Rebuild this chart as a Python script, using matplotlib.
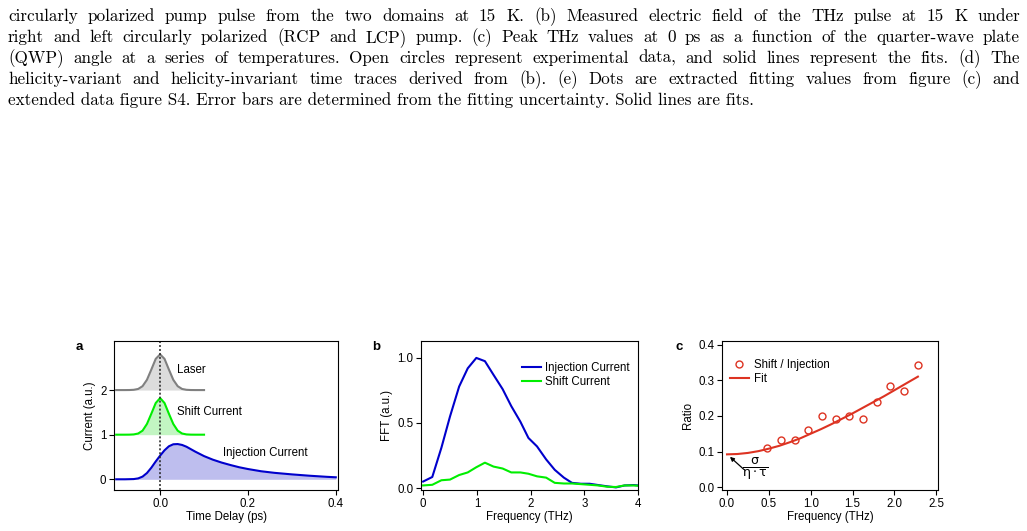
import matplotlib
matplotlib.use("Agg")
import matplotlib.pyplot as plt

plt.rcParams['font.family'] = ['Liberation Sans', 'DejaVu Sans']
plt.rcParams['mathtext.fontset'] = 'dejavusans'

# ---- data ----
caption_lines = [
    "circularly polarized pump pulse from the two domains at 15 K. (b) Measured electric field of the THz pulse at 15 K under",
    "right and left circularly polarized (RCP and LCP) pump. (c) Peak THz values at 0 ps as a function of the quarter-wave plate",
    "(QWP) angle at a series of temperatures. Open circles represent experimental data, and solid lines represent the fits. (d) The",
    "helicity-variant and helicity-invariant time traces derived from (b). (e) Dots are extracted fitting values from figure (c) and",
    "extended data figure S4. Error bars are determined from the fitting uncertainty. Solid lines are fits.",
]

# panel a
t_pulse = [-0.10, -0.09, -0.08, -0.07, -0.06, -0.05, -0.04, -0.03, -0.02, -0.01, 0.0,
           0.01, 0.02, 0.03, 0.04, 0.05, 0.06, 0.07, 0.08, 0.09, 0.10]
laser = [0.0, 0.0, 0.0, 0.001, 0.006, 0.025, 0.087, 0.23, 0.46, 0.70, 0.80,
         0.70, 0.46, 0.23, 0.087, 0.025, 0.006, 0.001, 0.0, 0.0, 0.0]
shift = [0.0, 0.0, 0.0, 0.001, 0.006, 0.026, 0.09, 0.24, 0.47, 0.71, 0.82,
         0.71, 0.47, 0.24, 0.09, 0.026, 0.006, 0.001, 0.0, 0.0, 0.0]
laser_offset = 2
shift_offset = 1
t_inj = [-0.10, -0.08, -0.06, -0.05, -0.04, -0.03, -0.02, -0.01, 0.0, 0.01, 0.02, 0.03,
         0.04, 0.05, 0.06, 0.08, 0.10, 0.12, 0.14, 0.16, 0.18, 0.20, 0.23, 0.26, 0.30,
         0.34, 0.38, 0.40]
inj = [0.0, 0.0, 0.005, 0.02, 0.06, 0.14, 0.26, 0.40, 0.53, 0.65, 0.74, 0.785,
       0.79, 0.77, 0.73, 0.62, 0.52, 0.44, 0.375, 0.32, 0.27, 0.23, 0.18, 0.145, 0.11,
       0.08, 0.055, 0.045]

# panel b
freq_b = [0.0, 0.17, 0.34, 0.50, 0.67, 0.83, 0.99, 1.15, 1.31, 1.48, 1.64, 1.81, 1.96,
          2.12, 2.29, 2.45, 2.62, 2.77, 2.94, 3.10, 3.26, 3.43, 3.59, 3.75, 3.92, 4.0]
fft_inj = [0.05, 0.085, 0.31, 0.55, 0.78, 0.92, 1.0, 0.975, 0.87, 0.76, 0.63, 0.51, 0.385,
           0.32, 0.22, 0.14, 0.08, 0.04, 0.033, 0.033, 0.023, 0.013, 0.005, 0.02, 0.023, 0.02]
fft_shift = [0.02, 0.025, 0.06, 0.065, 0.10, 0.12, 0.16, 0.195, 0.165, 0.15, 0.12, 0.12, 0.11,
             0.09, 0.08, 0.04, 0.035, 0.035, 0.03, 0.025, 0.02, 0.01, 0.008, 0.02, 0.02, 0.018]

# panel c
freq_c = [0.48, 0.645, 0.81, 0.97, 1.135, 1.30, 1.46, 1.62, 1.79, 1.95, 2.11, 2.28]
ratio = [0.111, 0.133, 0.131, 0.159, 0.201, 0.190, 0.200, 0.191, 0.239, 0.283, 0.270, 0.342]
freq_fit = [0.0, 0.125, 0.25, 0.375, 0.5, 0.625, 0.75, 0.875, 1.0, 1.125, 1.25, 1.375,
            1.5, 1.625, 1.75, 1.875, 2.0, 2.125, 2.28]
ratio_fit = [0.092, 0.093, 0.096, 0.101, 0.108, 0.116, 0.126, 0.137, 0.150, 0.163, 0.177,
             0.192, 0.207, 0.223, 0.239, 0.255, 0.272, 0.289, 0.310]

blue = '#0000cc'
green = '#00ee00'
red = '#dd3322'

W, H = 1027, 531
fig = plt.figure(figsize=(W / 100, H / 100), dpi=100)

# caption, justified like the paper text
renderer = fig.canvas.get_renderer()
cap_kw = dict(family=['cmr10', 'DejaVu Serif'], fontsize=12.3, va='baseline')
baselines = [20.7, 41.7, 62.7, 83.7, 104.7]
x0, x1 = 8, 1020
for i, line in enumerate(caption_lines):
    y = 1 - baselines[i] / H
    if i == len(caption_lines) - 1:
        fig.text(x0 / W, y, line, **cap_kw)
        continue
    words = line.split(' ')
    texts = [fig.text(0, y, w, **cap_kw) for w in words]
    widths = [t.get_window_extent(renderer).width for t in texts]
    gap = (x1 - x0 - sum(widths)) / (len(words) - 1)
    x = x0
    for t, w in zip(texts, widths):
        t.set_x(x / W)
        x += w + gap

fs = 8.3


def style(ax):
    ax.tick_params(direction='out', length=3.5, width=0.8, labelsize=fs, pad=2)
    for s in ax.spines.values():
        s.set_linewidth(0.8)


# ---- panel a ----
ax = fig.add_axes([114 / W, 1 - 490 / H, 224 / W, 149 / H])
style(ax)
las = [v + laser_offset for v in laser]
shf = [v + shift_offset for v in shift]
ax.fill_between(t_pulse, laser_offset, las, color='#dcdcdc', lw=0)
ax.plot(t_pulse, las, color='#808080', lw=1.5)
ax.fill_between(t_pulse, shift_offset, shf, color='#c2f5c2', lw=0)
ax.plot(t_pulse, shf, color=green, lw=1.5)
ax.fill_between(t_inj, 0, inj, color='#bebeee', lw=0)
ax.plot(t_inj, inj, color=blue, lw=1.5)
ax.axvline(0, color='#222222', lw=1.1, ls=(0, (1.3, 1.3)))
ax.set_xlim(-0.105, 0.405)
ax.set_ylim(-0.24, 3.1)
ax.set_xticks([0.0, 0.2, 0.4])
ax.set_yticks([0, 1, 2])
ax.set_xticklabels(['0.0', '0.2', '0.4'])
ax.set_xlabel('Time Delay (ps)', fontsize=fs, labelpad=1)
ax.set_ylabel('Current (a.u.)', fontsize=fs, labelpad=3)
ax.text(0.039, 2.45, 'Laser', fontsize=fs, va='center')
ax.text(0.039, 1.5, 'Shift Current', fontsize=fs, va='center')
ax.text(0.143, 0.58, 'Injection Current', fontsize=fs, va='center')
fig.text(76 / W, 1 - 347 / H, 'a', fontsize=9.5, fontweight='bold', va='center')

# ---- panel b ----
ax = fig.add_axes([421 / W, 1 - 490 / H, 217 / W, 149 / H])
style(ax)
ax.plot(freq_b, fft_inj, color=blue, lw=1.5, label='Injection Current')
ax.plot(freq_b, fft_shift, color=green, lw=1.5, label='Shift Current')
ax.set_xlim(-0.04, 4.0)
ax.set_ylim(-0.015, 1.13)
ax.set_xticks([0, 1, 2, 3, 4])
ax.set_yticks([0.0, 0.5, 1.0])
ax.set_yticklabels(['0.0', '0.5', '1.0'])
ax.set_xlabel('Frequency (THz)', fontsize=fs, labelpad=1)
ax.set_ylabel('FFT (a.u.)', fontsize=fs, labelpad=3)
ax.legend(loc='upper right', bbox_to_anchor=(1.0, 0.91), frameon=False, fontsize=fs,
          handlelength=1.6, handletextpad=0.4, labelspacing=0.1, borderpad=0.2)
fig.text(372 / W, 1 - 347 / H, 'b', fontsize=9.5, fontweight='bold', va='center')

# ---- panel c ----
ax = fig.add_axes([722 / W, 1 - 490 / H, 216 / W, 149 / H])
style(ax)
ax.plot(freq_c, ratio, 'o', mfc='none', mec=red, ms=5, mew=1.0, label='Shift / Injection')
ax.plot(freq_fit, ratio_fit, color=red, lw=1.5, label='Fit')
ax.set_xlim(-0.06, 2.52)
ax.set_ylim(-0.008, 0.41)
ax.set_xticks([0.0, 0.5, 1.0, 1.5, 2.0, 2.5])
ax.set_yticks([0.0, 0.1, 0.2, 0.3, 0.4])
ax.set_xticklabels(['0.0', '0.5', '1.0', '1.5', '2.0', '2.5'])
ax.set_yticklabels(['0.0', '0.1', '0.2', '0.3', '0.4'])
ax.set_xlabel('Frequency (THz)', fontsize=fs, labelpad=1)
ax.set_ylabel('Ratio', fontsize=fs, labelpad=3)
ax.legend(loc='upper left', bbox_to_anchor=(0.0, 0.93), frameon=False, fontsize=fs,
          handlelength=1.6, handletextpad=0.5, labelspacing=0.1, borderpad=0.2)
ax.annotate('', xy=(0.035, 0.085), xytext=(0.2, 0.05),
            arrowprops=dict(arrowstyle='-|>', color='black', lw=0.9, mutation_scale=6,
                            shrinkA=0, shrinkB=0))
ax.text(0.34, 0.053, r'$\frac{\mathrm{\sigma}}{\mathrm{\eta\cdot\tau}}$', fontsize=13,
        ha='center', va='center')
fig.text(676 / W, 1 - 347 / H, 'c', fontsize=9.5, fontweight='bold', va='center')

fig.savefig('out.png', dpi=100)
